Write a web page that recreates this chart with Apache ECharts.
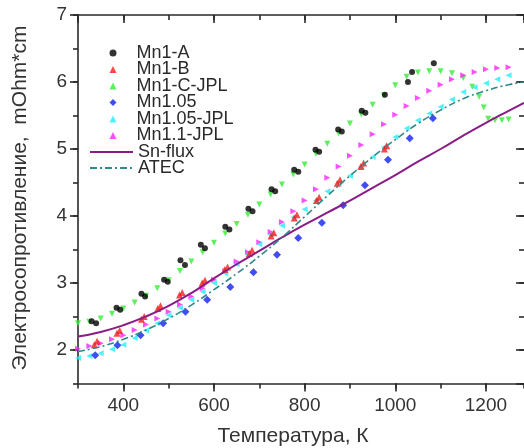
<!doctype html>
<html>
    <head>
        <meta charset="utf-8">
        <title>Resistivity vs temperature</title>
        <style>
            html, body { margin: 0; padding: 0; background: #fff; }
            #main { width: 524px; height: 448px; }
        </style>
    </head>
    <body>
        <div id="main"></div>
        <script src="https://cdn.jsdelivr.net/npm/echarts@6.0.0/dist/echarts.min.js"></script>
        <script>
            // Mn1-A (black dots)
            var mn1aT = [330, 340, 385, 393, 440, 448, 490, 498, 526, 536, 571, 580, 625, 634, 676, 685, 727, 735, 777, 786, 824, 832, 874, 882, 926, 934, 977, 1028, 1037, 1085];
            var mn1aR = [2.43, 2.40, 2.63, 2.60, 2.84, 2.80, 3.05, 3.02, 3.34, 3.27, 3.57, 3.52, 3.84, 3.80, 4.11, 4.07, 4.40, 4.37, 4.69, 4.66, 4.99, 4.96, 5.29, 5.26, 5.57, 5.54, 5.81, 6.00, 6.15, 6.28];

            // Mn1-B (red triangles)
            var mn1bT = [336, 342, 386, 392, 440, 446, 476, 482, 524, 530, 574, 580, 624, 630, 678, 684, 726, 732, 777, 783, 826, 832, 872, 878, 924, 930, 976, 981];
            var mn1bR = [2.08, 2.13, 2.25, 2.29, 2.46, 2.50, 2.62, 2.66, 2.82, 2.86, 3.00, 3.04, 3.20, 3.24, 3.44, 3.49, 3.70, 3.75, 3.97, 4.02, 4.23, 4.28, 4.49, 4.54, 4.74, 4.79, 5.00, 5.05];

            // Mn1-C-JPL (green down triangles)
            var mn1cT = [300, 325, 350, 375, 400, 425, 450, 475, 500, 525, 550, 575, 600, 625, 650, 675, 700, 725, 750, 775, 800, 825, 850, 875, 900, 925, 950, 975, 1000, 1025, 1050, 1075, 1100, 1125, 1150, 1170, 1185, 1195, 1205, 1220, 1235, 1250];
            var mn1cR = [2.40, 2.42, 2.47, 2.54, 2.62, 2.71, 2.81, 2.92, 3.04, 3.18, 3.32, 3.46, 3.60, 3.74, 3.88, 4.02, 4.17, 4.32, 4.47, 4.62, 4.77, 4.93, 5.08, 5.23, 5.38, 5.52, 5.66, 5.80, 5.95, 6.08, 6.14, 6.16, 6.16, 6.13, 6.06, 5.93, 5.78, 5.62, 5.45, 5.43, 5.43, 5.44];

            // Mn1.05 (blue diamonds)
            var mn105T = [338, 387, 438, 488, 537, 585, 636, 687, 739, 786, 838, 885, 933, 984, 1032, 1083];
            var mn105R = [1.92, 2.07, 2.22, 2.40, 2.57, 2.75, 2.94, 3.16, 3.42, 3.67, 3.90, 4.16, 4.46, 4.84, 5.16, 5.46];

            // Mn1.05-JPL (cyan left triangles)
            var mn105jT = [300, 325, 350, 375, 400, 425, 450, 475, 500, 525, 550, 575, 600, 625, 650, 675, 700, 725, 750, 775, 800, 825, 850, 875, 900, 925, 950, 975, 1000, 1025, 1050, 1075, 1100, 1125, 1150, 1175, 1200, 1225, 1250];
            var mn105jR = [1.88, 1.91, 1.95, 2.01, 2.08, 2.18, 2.29, 2.40, 2.52, 2.63, 2.75, 2.87, 3.00, 3.14, 3.28, 3.43, 3.58, 3.72, 3.86, 3.98, 4.10, 4.23, 4.37, 4.48, 4.60, 4.73, 4.88, 5.03, 5.18, 5.31, 5.43, 5.53, 5.63, 5.74, 5.85, 5.92, 5.98, 6.04, 6.10];

            // Mn1.1-JPL (magenta right triangles)
            var mn11T = [300, 325, 350, 375, 400, 425, 450, 475, 500, 525, 550, 575, 600, 625, 650, 675, 700, 725, 750, 775, 800, 825, 850, 875, 900, 925, 950, 975, 1000, 1025, 1050, 1075, 1100, 1125, 1150, 1175, 1200, 1225, 1250];
            var mn11R = [2.02, 2.06, 2.10, 2.16, 2.22, 2.30, 2.38, 2.47, 2.57, 2.68, 2.80, 2.92, 3.05, 3.18, 3.32, 3.46, 3.61, 3.76, 3.91, 4.07, 4.23, 4.40, 4.57, 4.74, 4.90, 5.06, 5.22, 5.37, 5.51, 5.64, 5.76, 5.87, 5.96, 6.04, 6.10, 6.15, 6.19, 6.21, 6.22];

            // Sn-flux (solid line)
            var snT = [300, 350, 400, 450, 500, 550, 600, 650, 700, 750, 800, 850, 900, 950, 1000, 1050, 1100, 1150, 1200, 1250, 1284];
            var snR = [2.20, 2.27, 2.37, 2.50, 2.66, 2.85, 3.07, 3.28, 3.48, 3.68, 3.87, 4.05, 4.23, 4.42, 4.61, 4.81, 5.00, 5.20, 5.39, 5.57, 5.69];

            // ATEC (dash-dot line)
            var atecT = [300, 350, 400, 450, 500, 550, 600, 650, 700, 750, 800, 850, 900, 950, 1000, 1050, 1100, 1150, 1200, 1250, 1284];
            var atecR = [1.98, 2.05, 2.16, 2.30, 2.47, 2.67, 2.90, 3.14, 3.40, 3.68, 3.99, 4.30, 4.60, 4.88, 5.14, 5.38, 5.58, 5.75, 5.87, 5.96, 6.00];

            var xTitle = 'Температура, К';
            var yTitle = 'Электросопротивление,  mOhm*cm';

            function pairs(t, r) {
                return t.map(function (v, i) { return [v, r[i]]; });
            }

            var axisColor = '#2a2a2a';
            var xMin = 300, xMax = 1284, yMin = 1.5, yMax = 7;

            // major axes: automatic nice ticks (x every 200, y every 1)
            // minor axes: interval counted from min (x every 100, y every 0.5), shorter ticks underneath
            function axis(dim, pos, minor, inside, extra) {
                var a = {
                    type: 'value',
                    min: dim === 'x' ? xMin : yMin,
                    max: dim === 'x' ? xMax : yMax,
                    position: pos,
                    axisLine: { show: !minor && pos !== 'right', lineStyle: { color: axisColor, width: 1.6 } },
                    axisTick: { show: true, length: minor ? 5 : 8, inside: inside, lineStyle: { color: axisColor, width: 1.6 } },
                    axisLabel: { show: false },
                    splitLine: { show: false }
                };
                if (minor) {
                    a.interval = dim === 'x' ? 100 : 0.5;
                }
                return Object.assign(a, extra || {});
            }

            // one small legend per entry, stacked at the reference row spacing
            function pointLegend(name, top, rotate) {
                return {
                    orient: 'vertical', left: 109.5, top: top, padding: 0,
                    itemWidth: 7, itemHeight: 7, symbolRotate: rotate || 0,
                    formatter: '   {name}',
                    textStyle: { fontSize: 18, color: '#2a2a2a', fontFamily: 'Arial' },
                    data: [name]
                };
            }
            function lineLegend(name, top) {
                return {
                    orient: 'vertical', left: 89, top: top, padding: 0,
                    itemWidth: 43, itemHeight: 6,
                    textStyle: { fontSize: 18, color: '#2a2a2a', fontFamily: 'Arial' },
                    data: [{ name: name, itemStyle: { opacity: 0 } }]
                };
            }

            var chart = echarts.init(document.getElementById('main'));
            chart.setOption({
                backgroundColor: '#fff',
                grid: { left: 78, top: 15, right: 0, bottom: 64.5 },
                legend: [
                    pointLegend('Mn1-A', 44),
                    pointLegend('Mn1-B', 60.5),
                    pointLegend('Mn1-C-JPL', 77, 180),
                    pointLegend('Mn1.05', 93.5),
                    pointLegend('Mn1.05-JPL', 110, 90),
                    pointLegend('Mn1.1-JPL', 126.5, -90),
                    lineLegend('Sn-flux', 143),
                    lineLegend('ATEC', 159)
                ],
                graphic: [
                    {
                        type: 'text', x: 293, y: 436, silent: true,
                        style: {
                            text: xTitle, font: '21px Arial', fill: '#333',
                            align: 'center', verticalAlign: 'middle'
                        }
                    },
                    {
                        type: 'text', x: 20, y: 198, rotation: Math.PI / 2, silent: true,
                        style: {
                            text: yTitle, font: '21px Arial', fill: '#333',
                            align: 'center', verticalAlign: 'middle'
                        }
                    }
                ],
                xAxis: [
                    axis('x', 'bottom', false, false, {
                        axisLabel: {
                            show: true, margin: 13, fontSize: 19, color: '#333', fontFamily: 'Arial',
                            showMinLabel: false, showMaxLabel: false,
                            formatter: function (v) { return String(v); }
                        }
                    }),
                    axis('x', 'bottom', true, false),
                    axis('x', 'top', false, true),
                    axis('x', 'top', true, true)
                ],
                yAxis: [
                    axis('y', 'left', false, false, {
                        axisLabel: {
                            show: true, margin: 11, fontSize: 19, color: '#333', fontFamily: 'Arial',
                            showMinLabel: false,
                            formatter: function (v) { return String(v); }
                        }
                    }),
                    axis('y', 'left', true, false),
                    axis('y', 'right', false, true),
                    axis('y', 'right', true, true)
                ],
                series: [
                    {
                        name: 'Mn1-C-JPL', type: 'scatter',
                        symbol: 'triangle', symbolRotate: 180, symbolSize: 6,
                        itemStyle: { color: '#33ee33' },
                        data: pairs(mn1cT, mn1cR)
                    },
                    {
                        name: 'Mn1.1-JPL', type: 'scatter',
                        symbol: 'triangle', symbolRotate: -90, symbolSize: 6,
                        itemStyle: { color: '#ff22ff' },
                        data: pairs(mn11T, mn11R)
                    },
                    {
                        name: 'Mn1.05-JPL', type: 'scatter',
                        symbol: 'triangle', symbolRotate: 90, symbolSize: 6,
                        itemStyle: { color: '#22eef6' },
                        data: pairs(mn105jT, mn105jR)
                    },
                    {
                        name: 'Mn1-A', type: 'scatter',
                        symbol: 'circle', symbolSize: 6,
                        itemStyle: { color: '#000' },
                        data: pairs(mn1aT, mn1aR)
                    },
                    {
                        name: 'Mn1-B', type: 'scatter',
                        symbol: 'triangle', symbolSize: 7,
                        itemStyle: { color: '#f41c1c' },
                        data: pairs(mn1bT, mn1bR)
                    },
                    {
                        name: 'Mn1.05', type: 'scatter',
                        symbol: 'diamond', symbolSize: 8,
                        itemStyle: { color: '#1020f0' },
                        data: pairs(mn105T, mn105R)
                    },
                    {
                        name: 'Sn-flux', type: 'line',
                        symbol: 'none', smooth: true,
                        lineStyle: { color: '#8a1c86', width: 2 },
                        itemStyle: { color: '#8a1c86' },
                        data: pairs(snT, snR)
                    },
                    {
                        name: 'ATEC', type: 'line',
                        symbol: 'none', smooth: true,
                        lineStyle: { color: '#2d8a8a', width: 1.6, type: [7, 3, 2, 3] },
                        itemStyle: { color: '#2d8a8a' },
                        data: pairs(atecT, atecR)
                    }
                ]
            });
            window.addEventListener('resize', function () {
                chart.resize();
            });
        </script>
    </body>
</html>
